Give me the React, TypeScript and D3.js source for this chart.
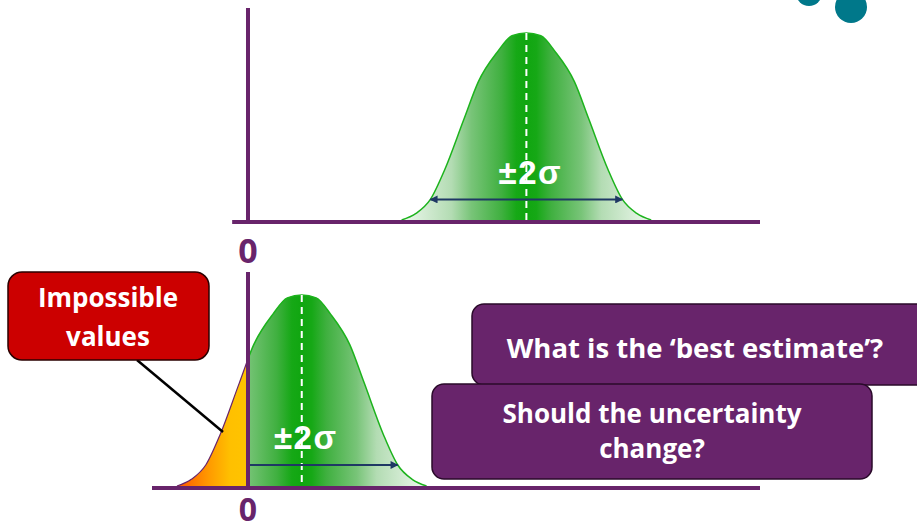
import React from "react";
import * as d3 from "d3";

const W = 917;
const H = 530;

// Bell profile shared by both panels: offset from the mean (in σ) and relative height
const profileZ = [-2.6, -2.3, -2.0, -1.7, -1.3, -1.0, -0.6, -0.3, 0, 0.3, 0.6, 1.0, 1.3, 1.7, 2.0, 2.3, 2.6];
const profileH = [0, 0.035, 0.11, 0.27, 0.54, 0.74, 0.9, 0.985, 1, 0.985, 0.9, 0.74, 0.54, 0.27, 0.11, 0.035, 0];

// Panel estimates (value units, zero is the physical limit)
const panelMeans = [5.8, 1.12];
const panelSigmas = [1, 1];
const valueDomain = [-2, 10.667];
const topAxisStart = -0.33;

const zeroLabel = "0";
const spreadLabel = "±2σ";
const calloutLines = ["Impossible", "values"];
const bestEstimateLines = ["What is the ‘best estimate’?"];
const uncertaintyLines = ["Should the uncertainty", "change?"];

const PURPLE = "#68246b";
const NAVY = "#1f3864";
const FONT = "'Open Sans', Lato, sans-serif";
const SYMBOL_FONT = "'Liberation Sans', Arial, sans-serif";

type Pt = { z: number; h: number };
const profile: Pt[] = profileZ.map((z, i) => ({ z, h: profileH[i] }));

export default function App() {
  const x = d3.scaleLinear().domain(valueDomain).range([152, 760]);
  const yTop = d3.scaleLinear().domain([0, 1]).range([220, 33]);
  const yBot = d3.scaleLinear().domain([0, 1]).range([486, 295]);
  const panels = [
    { mean: panelMeans[0], sigma: panelSigmas[0], y: yTop, axisY: 222, id: "top" },
    { mean: panelMeans[1], sigma: panelSigmas[1], y: yBot, axisY: 488, id: "bot" },
  ];
  const x0 = x(0);

  const areaFor = (mean: number, sigma: number, y: d3.ScaleLinear<number, number>) =>
    d3
      .area<Pt>()
      .x((d) => x(mean + d.z * sigma))
      .y0(y(0))
      .y1((d) => y(d.h))
      .curve(d3.curveMonotoneX)(profile) as string;
  const lineFor = (mean: number, sigma: number, y: d3.ScaleLinear<number, number>) =>
    d3
      .line<Pt>()
      .x((d) => x(mean + d.z * sigma))
      .y((d) => y(d.h))
      .curve(d3.curveMonotoneX)(profile) as string;

  const greenStops = [
    [0, "#eff8ef"],
    [0.2, "#b3dcb3"],
    [0.28, "#78c478"],
    [0.4, "#40b040"],
    [0.46, "#16a816"],
    [0.5, "#10a610"],
    [0.54, "#16a816"],
    [0.6, "#40b040"],
    [0.72, "#78c478"],
    [0.8, "#b3dcb3"],
    [1, "#eff8ef"],
  ];

  const spreadText = (cx: number, baseline: number) => (
    <text
      x={cx}
      y={baseline}
      textAnchor="middle"
      fill="#fff"
      fontFamily={SYMBOL_FONT}
      fontWeight="bold"
      fontSize={33}
      letterSpacing={1.5}
    >
      {spreadLabel}
    </text>
  );

  const meanLine = (p: (typeof panels)[number]) => (
    <line
      x1={x(p.mean)}
      x2={x(p.mean)}
      y1={p.y(1)}
      y2={p.y(0)}
      stroke="#fff"
      strokeWidth={2}
      strokeDasharray="7 5"
    />
  );

  return (
    <div style={{ position: "fixed", left: 0, top: 0 }}>
      <svg width={W} height={H} viewBox={`0 0 ${W} ${H}`} style={{ display: "block", background: "#fff" }}>
        <defs>
          {panels.map((p) => (
            <linearGradient
              key={p.id}
              id={`bell-${p.id}`}
              gradientUnits="userSpaceOnUse"
              x1={x(p.mean - 2.6 * p.sigma)}
              x2={x(p.mean + 2.6 * p.sigma)}
              y1={0}
              y2={0}
            >
              {greenStops.map(([o, c]) => (
                <stop key={String(o)} offset={o as number} stopColor={c as string} />
              ))}
            </linearGradient>
          ))}
          <linearGradient
            id="impossible"
            gradientUnits="userSpaceOnUse"
            x1={x(panelMeans[1] - 2.6 * panelSigmas[1])}
            x2={x0}
            y1={0}
            y2={0}
          >
            <stop offset={0} stopColor="#ff5500" />
            <stop offset={0.45} stopColor="#ff9a00" />
            <stop offset={0.75} stopColor="#ffc000" />
            <stop offset={1} stopColor="#ffc400" />
          </linearGradient>
          <clipPath id="positive">
            <rect x={x0} y={0} width={W} height={H} />
          </clipPath>
          <clipPath id="negative">
            <rect x={0} y={0} width={x0} height={H} />
          </clipPath>
          <marker
            id="arrow"
            viewBox="0 0 10 10"
            refX={9}
            refY={5}
            markerWidth={10}
            markerHeight={8}
            markerUnits="userSpaceOnUse"
            orient="auto-start-reverse"
          >
            <path d="M0,0 L10,5 L0,10 z" fill={NAVY} />
          </marker>
        </defs>

        {/* decorative dots */}
        <circle cx={809} cy={-7} r={13} fill="#00788a" />
        <circle cx={851} cy={7} r={16} fill="#00788a" />

        {/* top panel: unconstrained estimate */}
        {(() => {
          const p = panels[0];
          const arrowY = p.y(0.11);
          return (
            <g>
              <path d={areaFor(p.mean, p.sigma, p.y)} fill={`url(#bell-${p.id})`} />
              <path d={lineFor(p.mean, p.sigma, p.y)} fill="none" stroke="#1db31d" strokeWidth={1.5} />
              {spreadText(x(p.mean) + 4, arrowY - 15)}
              {meanLine(p)}
              <line
                x1={x(p.mean - 2 * p.sigma)}
                x2={x(p.mean + 2 * p.sigma)}
                y1={arrowY}
                y2={arrowY}
                stroke={NAVY}
                strokeWidth={2}
                markerStart="url(#arrow)"
                markerEnd="url(#arrow)"
              />
              <line x1={x(topAxisStart)} x2={x(valueDomain[1])} y1={p.axisY} y2={p.axisY} stroke={PURPLE} strokeWidth={4} />
              <line x1={x0} x2={x0} y1={8} y2={p.axisY} stroke={PURPLE} strokeWidth={4} />
              <text x={x0} y={263} textAnchor="middle" fill={PURPLE} fontFamily={FONT} fontWeight="bold" fontSize={34}>
                {zeroLabel}
              </text>
            </g>
          );
        })()}

        {/* bottom panel: estimate running into the zero limit */}
        {(() => {
          const p = panels[1];
          const arrowY = p.y(0.11);
          return (
            <g>
              <g clipPath="url(#negative)">
                <path d={areaFor(p.mean, p.sigma, p.y)} fill="url(#impossible)" />
                <path d={lineFor(p.mean, p.sigma, p.y)} fill="none" stroke={PURPLE} strokeWidth={1.2} />
              </g>
              <g clipPath="url(#positive)">
                <path d={areaFor(p.mean, p.sigma, p.y)} fill={`url(#bell-${p.id})`} />
                <path d={lineFor(p.mean, p.sigma, p.y)} fill="none" stroke="#1db31d" strokeWidth={1.5} />
              </g>
              {spreadText(x(p.mean) + 4, arrowY - 16)}
              {meanLine(p)}
              <line
                x1={x0 + 2}
                x2={x(p.mean + 2 * p.sigma)}
                y1={arrowY}
                y2={arrowY}
                stroke={NAVY}
                strokeWidth={2}
                markerEnd="url(#arrow)"
              />
              <line x1={x(valueDomain[0])} x2={x(valueDomain[1])} y1={p.axisY} y2={p.axisY} stroke={PURPLE} strokeWidth={4} />
              <line x1={x0} x2={x0} y1={272} y2={p.axisY} stroke={PURPLE} strokeWidth={4} />
              <text x={x0} y={521} textAnchor="middle" fill={PURPLE} fontFamily={FONT} fontWeight="bold" fontSize={32}>
                {zeroLabel}
              </text>
            </g>
          );
        })()}

        {/* callout for the negative tail */}
        <line x1={137} y1={360} x2={223} y2={432} stroke="#000" strokeWidth={2.5} />
        <rect x={8} y={272} width={201} height={88} rx={14} fill="#cc0000" stroke="#2a0000" strokeWidth={1.5} />
        {calloutLines.map((t, i) => (
          <text
            key={t}
            x={108}
            y={307 + i * 39}
            textAnchor="middle"
            fill="#fff"
            fontFamily={FONT}
            fontWeight="bold"
            fontSize={26}
          >
            {t}
          </text>
        ))}

        {/* question boxes */}
        <rect x={472} y={304} width={470} height={81} rx={12} fill={PURPLE} stroke="#2a0a2a" strokeWidth={1.5} />
        {bestEstimateLines.map((t) => (
          <text key={t} x={695} y={358} textAnchor="middle" fill="#fff" fontFamily={FONT} fontWeight="bold" fontSize={27.5}>
            {t}
          </text>
        ))}
        <rect x={432} y={384} width={440} height={95} rx={12} fill={PURPLE} stroke="#2a0a2a" strokeWidth={1.5} />
        {uncertaintyLines.map((t, i) => (
          <text
            key={t}
            x={652}
            y={423 + i * 35}
            textAnchor="middle"
            fill="#fff"
            fontFamily={FONT}
            fontWeight="bold"
            fontSize={26}
          >
            {t}
          </text>
        ))}
      </svg>
    </div>
  );
}
